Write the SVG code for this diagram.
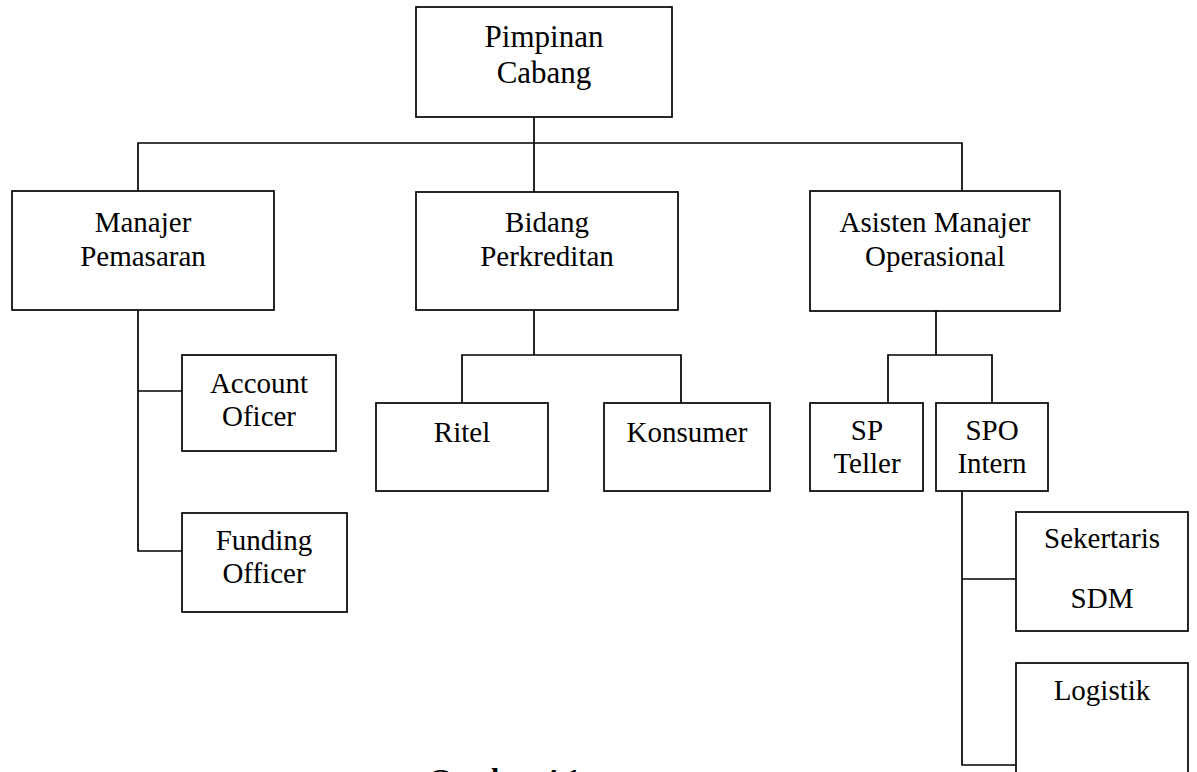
<svg xmlns="http://www.w3.org/2000/svg" width="1197" height="772" viewBox="0 0 1197 772">
<style>
.box{fill:#fff;stroke:#000;stroke-width:1.7}
.ln{fill:none;stroke:#000;stroke-width:1.7}
text{font-family:"Liberation Serif","Times New Roman",serif;font-size:29px;fill:#000;text-anchor:middle}
.big{font-size:31px}
.cap{font-weight:bold;font-size:30px;text-anchor:start}
</style>
<rect width="1197" height="772" fill="#fff"/>
<g id="connectors">
<path class="ln" d="M534,117 V192"/>
<path class="ln" d="M138,191 V143 H962 V191"/>
<path class="ln" d="M138,310 V551 H182 M138,391 H182"/>
<path class="ln" d="M534,310 V355 M462,403 V355 H681 V403"/>
<path class="ln" d="M936,311 V355 M888,403 V355 H992 V403"/>
<path class="ln" d="M962,491 V765 H1016 M962,579 H1016"/>
</g>
<g id="pimpinan"><rect class="box" x="416" y="7" width="256" height="110"/><text class="big" x="544" y="47">Pimpinan</text><text class="big" x="544" y="83">Cabang</text></g>
<g id="manajer"><rect class="box" x="12" y="191" width="262" height="119"/><text x="143" y="232">Manajer</text><text x="143" y="266">Pemasaran</text></g>
<g id="bidang"><rect class="box" x="416" y="192" width="262" height="118"/><text x="547" y="232">Bidang</text><text x="547" y="266">Perkreditan</text></g>
<g id="asisten"><rect class="box" x="810" y="191" width="250" height="120"/><text x="935" y="232">Asisten Manajer</text><text x="935" y="266">Operasional</text></g>
<g id="account"><rect class="box" x="182" y="355" width="154" height="96"/><text x="259" y="393">Account</text><text x="259" y="426">Oficer</text></g>
<g id="funding"><rect class="box" x="182" y="513" width="165" height="99"/><text x="264" y="550">Funding</text><text x="264" y="583">Officer</text></g>
<g id="ritel"><rect class="box" x="376" y="403" width="172" height="88"/><text x="462" y="442">Ritel</text></g>
<g id="konsumer"><rect class="box" x="604" y="403" width="166" height="88"/><text x="687" y="442">Konsumer</text></g>
<g id="spteller"><rect class="box" x="810" y="403" width="113" height="88"/><text x="867" y="440">SP</text><text x="867" y="473">Teller</text></g>
<g id="spointern"><rect class="box" x="936" y="403" width="112" height="88"/><text x="992" y="440">SPO</text><text x="992" y="473">Intern</text></g>
<g id="sekertaris"><rect class="box" x="1016" y="512" width="172" height="119"/><text x="1102" y="548">Sekertaris</text><text x="1102" y="608">SDM</text></g>
<g id="logistik"><rect class="box" x="1016" y="663" width="172" height="130"/><text x="1102" y="700">Logistik</text></g>
<text class="cap" x="428" y="789">Gambar 4.1</text>
</svg>
